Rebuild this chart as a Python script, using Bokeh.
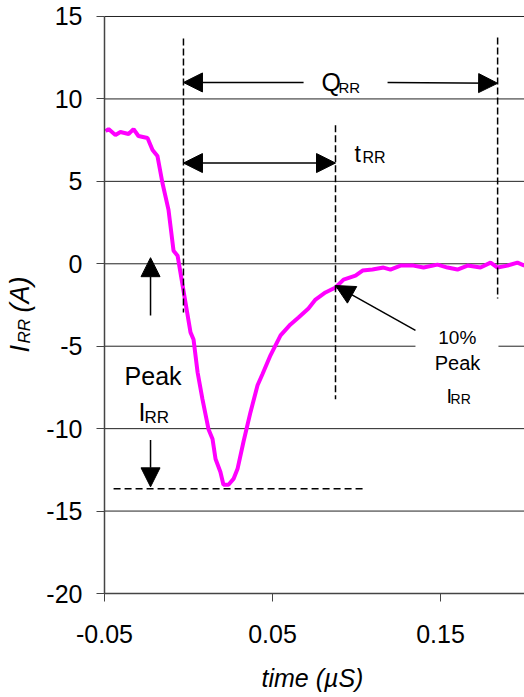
import math
from bokeh.plotting import figure
from bokeh.models import Range1d, FixedTicker, Arrow, NormalHead, Label
from bokeh.embed import file_html
from bokeh.resources import INLINE

# ---- data ----
time_us = [-0.0494, -0.0476, -0.0435, -0.0405, -0.0357, -0.0327, -0.0298, -0.0244,
           -0.0214, -0.0185, -0.0155, -0.0119, -0.0089, -0.0065, -0.0030, 0.0012,
           0.0030, 0.0054, 0.0083, 0.0119, 0.0143, 0.0161, 0.0190, 0.0208, 0.0238,
           0.0268, 0.0292, 0.0327, 0.0369, 0.0411, 0.0440, 0.0488, 0.0548, 0.0607,
           0.0655, 0.0714, 0.0756, 0.0815, 0.0875, 0.0923, 0.0994, 0.1036, 0.1095,
           0.1161, 0.1202, 0.1262, 0.1339, 0.1399, 0.1482, 0.1542, 0.1601, 0.1661,
           0.1738, 0.1798, 0.1839, 0.1899, 0.1958, 0.2000]
irr_a = [8.05, 8.17, 7.81, 7.99, 7.87, 8.17, 7.75, 7.63,
         6.90, 6.54, 4.90, 3.27, 0.79, 0.49, -1.62, -4.16,
         -4.59, -6.58, -8.21, -10.03, -10.63, -11.84, -12.63, -13.40, -13.40,
         -13.05, -12.44, -10.81, -9.00, -7.37, -6.70, -5.55, -4.34, -3.68,
         -3.26, -2.71, -2.17, -1.74, -1.44, -0.96, -0.72, -0.41, -0.35,
         -0.23, -0.35, -0.11, -0.11, -0.23, -0.05, -0.23, -0.35, -0.11,
         -0.23, 0.07, -0.23, -0.11, 0.07, -0.11]

x_ticks = [-0.05, 0.05, 0.15]
x_tick_labels = ["-0.05", "0.05", "0.15"]
y_ticks = [-20, -15, -10, -5, 0, 5, 10, 15]
x_min, x_max = -0.05, 0.2
y_min, y_max = -20, 15

# annotation anchors (data units)
t_start = -0.003      # start of reverse recovery
t_rr_end = 0.0875     # end of t_RR (10% peak)
q_rr_end = 0.184      # end of Q_RR
peak_irr = -13.65     # peak reverse current level
ten_pct = -1.32       # 10% of peak

FONT = "Liberation Sans"
W, H = 524, 697
X0, X1 = -0.111905, 0.2
Y0, Y1 = -26.3084, 15.9705
PX_PER_X = W / (X1 - X0)
PX_PER_Y = H / (Y1 - Y0)

# the frame covers the whole canvas; axes are pinned at the data limits
p = figure(width=W, height=H, x_range=Range1d(X0, X1), y_range=Range1d(Y0, Y1),
           output_backend="svg", toolbar_location=None,
           min_border_left=0, min_border_right=0, min_border_top=0, min_border_bottom=0)
p.outline_line_color = None
p.background_fill_color = "white"
p.border_fill_color = "white"
p.xgrid.visible = False
p.ygrid.visible = False

p.xaxis.ticker = FixedTicker(ticks=x_ticks)
p.xaxis.major_label_overrides = {t: s for t, s in zip(x_ticks, x_tick_labels)}
p.yaxis.ticker = FixedTicker(ticks=y_ticks)
p.yaxis.major_label_overrides = {t: str(t) for t in y_ticks}
p.xaxis.fixed_location = y_min
p.yaxis.fixed_location = x_min
p.xaxis.bounds = (x_min, x_max)
p.yaxis.bounds = (y_min, y_max)
for ax in (p.xaxis, p.yaxis):
    ax.major_label_text_font = FONT
    ax.major_label_text_font_size = "25px"
    ax.major_label_text_color = "black"
    ax.major_tick_out = 8
    ax.major_tick_in = 0
    ax.minor_tick_line_color = None
    ax.axis_line_color = "#444444"
    ax.axis_line_width = 1.5
    ax.major_tick_line_color = "#444444"
p.yaxis.major_label_standoff = 14
p.xaxis.major_label_standoff = 23

# horizontal gridlines
p.segment(x0=[x_min] * len(y_ticks), x1=[x_max] * len(y_ticks), y0=y_ticks, y1=y_ticks,
          line_color="#222222", line_width=1)

# white box behind the 10% label
p.quad(left=[0.1351], right=[0.1845], top=[-3.44], bottom=[-8.88],
       fill_color="white", line_color=None)

# curve
p.line(time_us, irr_a, line_color="#FF00FF", line_width=4)

# dashed markers
p.segment(x0=[t_start, t_rr_end, q_rr_end], x1=[t_start, t_rr_end, q_rr_end],
          y0=[13.67, 8.41, 13.73], y1=[-2.95, -8.21, -2.11],
          line_color="black", line_width=1.5, line_dash="7 3")
p.segment(x0=[-0.0446], x1=[0.1054], y0=[peak_irr], y1=[peak_irr],
          line_color="black", line_width=1.5, line_dash="7 4")


def head():
    return NormalHead(size=19, fill_color="black", line_color="black", line_width=1)


def arrow(x0, y0, x1, y1, both=False):
    a = Arrow(x_start=x0, y_start=y0, x_end=x1, y_end=y1, end=head(),
              start=head() if both else None, line_color="black", line_width=1.5)
    p.add_layout(a)


arrow(0.0685, 11.0, t_start, 11.0)
arrow(0.1185, 11.0, q_rr_end, 10.95)
arrow(t_start, 6.11, t_rr_end, 6.11, both=True)
arrow(-0.0226, -3.13, -0.0226, 0.37)
arrow(-0.0226, -10.69, -0.0226, -13.53)
arrow(0.1351, -4.04, t_rr_end, ten_pct)

BASE_FIX = 0.33  # em; lifts the rendered baseline onto the intended one


def lab(x, y, text, size, align="left", angle=0.0, style="normal"):
    if angle == 0.0:
        y = y + BASE_FIX * size / PX_PER_Y
    else:
        x = x - BASE_FIX * size / PX_PER_X
    p.add_layout(Label(x=x, y=y, text=text, text_font=FONT, text_font_size=f"{size}px",
                       text_align=align, text_baseline="alphabetic", angle=angle,
                       text_font_style=style, text_color="black"))


lab(0.0792, 10.53, "Q", 25)
lab(0.0893, 10.41, "RR", 15)
lab(0.0988, 6.17, "t", 23)
lab(0.1036, 6.11, "RR", 16)
lab(-0.0211, -7.31, "Peak", 25, align="center")
lab(-0.0298, -9.48, "I", 25)
lab(-0.0262, -9.66, "RR", 17)
lab(0.1600, -4.83, "10%", 19, align="center")
lab(0.1601, -6.40, "Peak", 20, align="center")
lab(0.1536, -8.39, "I", 20)
lab(0.1560, -8.51, "RR", 14)

# axis titles
lab(0.0738, -25.64, "time (\u00b5S)", 25, align="center", style="italic")
lab(-0.09524, -5.38, "I", 27, angle=math.pi / 2, style="italic")
lab(-0.09405, -4.84, "RR", 17, angle=math.pi / 2, style="italic")
lab(-0.09524, -2.95, "(A)", 27, angle=math.pi / 2, style="italic")

open("out.html", "w").write(file_html(p, INLINE))
